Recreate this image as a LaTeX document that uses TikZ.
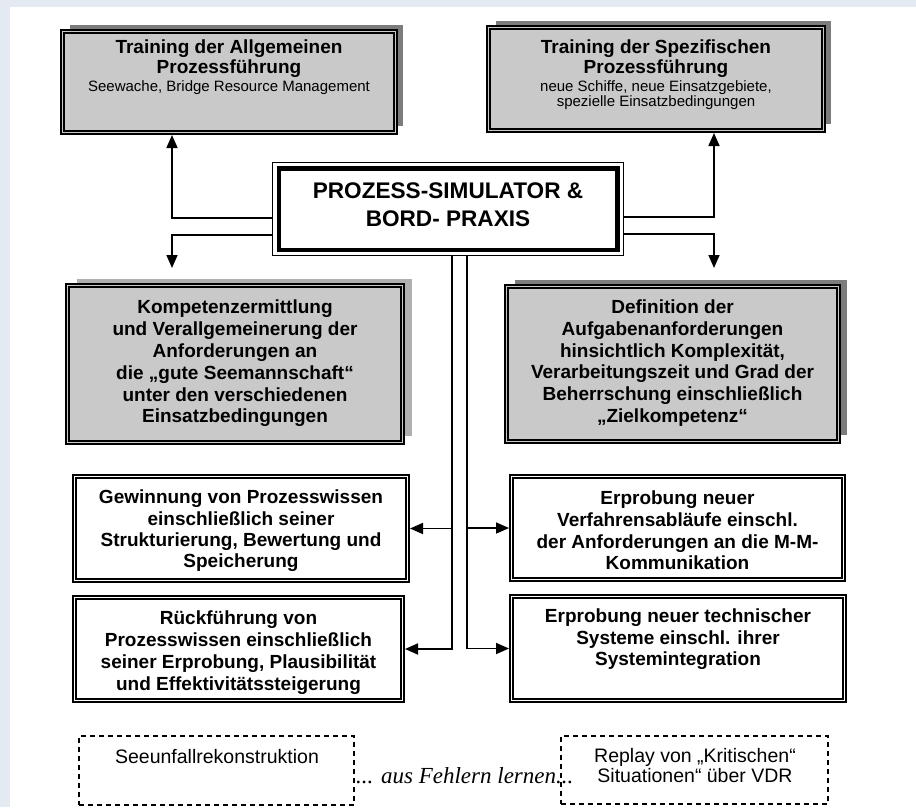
\documentclass[tikz,border=0pt]{standalone}
\usepackage{fontspec}
\setmainfont{Liberation Sans}
\newfontfamily\serifit{Liberation Serif}
\usetikzlibrary{arrows.meta,shadows,calc}
\definecolor{bgblue}{HTML}{E3EAF2}
\definecolor{boxgray}{HTML}{C9C9C9}
\definecolor{shadowdark}{HTML}{7C7C7C}
\definecolor{shadowlight}{HTML}{B0B0B0}
\begin{document}
\begin{tikzpicture}[x=1pt,y=-1pt,
  graybox/.style={draw=black, fill=boxgray, double=boxgray, double distance=1.6pt, line width=1.7pt, inner sep=0pt, outer sep=0pt},
  whitebox/.style={draw=black, fill=white, double=white, double distance=1.6pt, line width=1.7pt, inner sep=0pt, outer sep=0pt},
  shad/.style={drop shadow={shadow xshift=7pt, shadow yshift=7pt, fill=#1, opacity=1}},
  dashbox/.style={draw=black, line width=1.3pt, dash pattern=on 5pt off 4pt, inner sep=0pt, outer sep=0pt},
  ttl/.style={font=\bfseries\fontsize{19}{20}\selectfont, align=center, inner sep=0pt},
  sub/.style={font=\fontsize{15}{15.5}\selectfont, align=center, inner sep=0pt},
  txt/.style={font=\bfseries\fontsize{19}{21.8}\selectfont, align=center, inner sep=0pt},
  plain/.style={font=\fontsize{19.5}{20}\selectfont, align=center, inner sep=0pt},
  conn/.style={line width=1.7pt},
  arr/.style={conn, -{Triangle[length=13pt,width=11pt]}}
]
\useasboundingbox (0,0) rectangle (916,807);
\fill[bgblue] (0,0) rectangle (916,807);
\fill[white] (10,7) rectangle (916,807);

% top gray boxes
\node[graybox, shad=shadowdark, minimum width=333pt, minimum height=101pt] (b1) at (229,82) {};
\node[ttl] (b1t) at (229,59) {Training der Allgemeinen\\Prozessführung};
\node[sub] (b1s) at (229,88) {Seewache, Bridge Resource Management};

\node[graybox, shad=shadowdark, minimum width=335pt, minimum height=103pt] (b2) at (656,79) {};
\node[ttl] (b2t) at (656,59) {Training der Spezifischen\\Prozessführung};
\node[sub] (b2s) at (656,95) {neue Schiffe, neue Einsatzgebiete,\\spezielle Einsatzbedingungen};

% central box
\node[draw=black, fill=white, line width=1.4pt, inner sep=0pt, outer sep=0pt, minimum width=350.6pt, minimum height=92.6pt] (cout) at (448,209) {};
\node[draw=black, line width=4.5pt, inner sep=0pt, outer sep=0pt, minimum width=338.5pt, minimum height=81.5pt] (c) at (448,209) {};
\node[font=\bfseries\fontsize{22.6}{28}\selectfont, align=center, inner sep=0pt] (ct) at (448,205) {PROZESS-SIMULATOR \&\\BORD- PRAXIS};

% middle gray boxes
\node[graybox, drop shadow={shadow xshift=9pt, shadow yshift=7pt, fill=shadowlight, opacity=1}, minimum width=335pt, minimum height=157pt] (k) at (235,364) {};
\node[txt] (kt) at (235,363.5) {Kompetenzermittlung\\und Verallgemeinerung der\\Anforderungen an\\die „gute Seemannschaft“\\unter den verschiedenen\\Einsatzbedingungen};

\node[graybox, drop shadow={shadow xshift=8pt, shadow yshift=7pt, fill=shadowdark, opacity=1}, minimum width=332pt, minimum height=155pt] (d) at (672.5,364) {};
\node[txt] (dt) at (672.5,363) {Definition der\\Aufgabenanforderungen\\hinsichtlich Komplexität,\\Verarbeitungszeit und Grad der\\Beherrschung einschließlich\\„Zielkompetenz“};

% white boxes
\node[whitebox, minimum width=333pt, minimum height=104pt] (g) at (241,528.5) {};
\node[txt, font=\bfseries\fontsize{19}{21.3}\selectfont] (gt) at (241,531) {Gewinnung von Prozesswissen\\einschließlich seiner\\Strukturierung, Bewertung und\\Speicherung};

\node[whitebox, minimum width=332pt, minimum height=103pt] (v) at (677.5,528) {};
\node[txt, font=\bfseries\fontsize{19}{21.6}\selectfont] (vt) at (677.5,530.5) {Erprobung neuer\\Verfahrensabläufe einschl.\\der Anforderungen an die M-M-\\Kommunikation};

\node[whitebox, minimum width=328pt, minimum height=103pt] (r) at (238.5,649) {};
\node[txt, font=\bfseries\fontsize{19}{22}\selectfont] (rt) at (238.5,653) {Rückführung von\\Prozesswissen einschließlich\\seiner Erprobung, Plausibilität\\und Effektivitätssteigerung};

\node[whitebox, minimum width=333pt, minimum height=104pt] (t) at (678,648.5) {};
\node[txt, font=\bfseries\fontsize{19}{21.5}\selectfont] (tt) at (678,639.5) {Erprobung neuer technischer\\Systeme einschl. ihrer\\Systemintegration};

% dashed boxes
\node[dashbox, minimum width=275pt, minimum height=69pt] (s1) at (216.5,770.5) {};
\node[plain] (s1t) at (217,757) {Seeunfallrekonstruktion};
\node[dashbox, minimum width=267pt, minimum height=68pt] (s2) at (694.5,770) {};
\node[plain] (s2t) at (695,766) {Replay von „Kritischen“\\Situationen“ über VDR};
\node[font=\serifit\itshape\fontsize{23}{24}\selectfont, inner sep=0pt, anchor=base west] (lern) at (356,783) {... aus Fehlern lernen...};

% connectors
\coordinate (cw1) at ([yshift=-9pt]cout.west);
\coordinate (cw2) at ([yshift=-26pt]cout.west);
\coordinate (ce1) at ([yshift=-8pt]cout.east);
\coordinate (ce2) at ([yshift=-25pt]cout.east);
\coordinate (kin) at (172,268);
\coordinate (din) at (714,268);
\coordinate (vl) at ([xshift=4pt]cout.south);
\coordinate (vr) at ([xshift=19pt]cout.south);

\draw[arr, shorten >=2.5pt] (cw1) -| (b1.south -| kin);
\draw[arr] (cw2) -| (kin);
\draw[arr, shorten >=2.5pt] (ce1) -| (b2.south -| din);
\draw[arr] (ce2) -| (din);

\draw[arr, shorten >=2.5pt] (vl) |- (r.east);
\draw[arr, shorten >=2.5pt] (vl |- g.east) -- (g.east);
\draw[arr, shorten >=2.5pt] (vr) |- (t.west);
\draw[arr, shorten >=2.5pt] (vr |- v.west) -- (v.west);
\end{tikzpicture}
\end{document}
